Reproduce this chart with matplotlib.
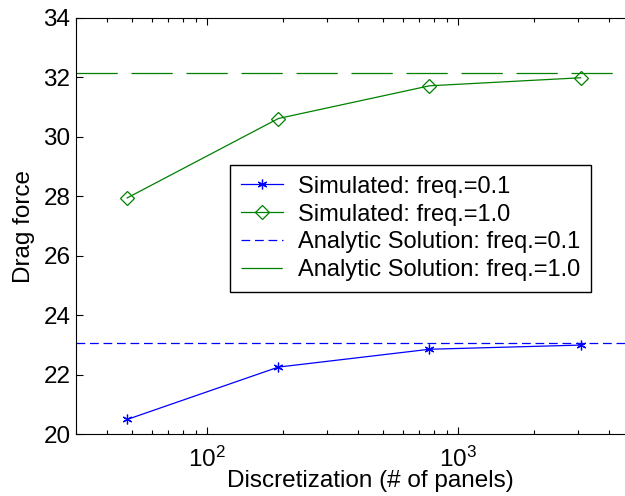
import matplotlib
matplotlib.use('Agg')
import matplotlib.pyplot as plt
import numpy as np

plt.rcParams['font.family'] = ['Liberation Sans', 'DejaVu Sans']
plt.rcParams['mathtext.fontset'] = 'custom'
plt.rcParams['mathtext.rm'] = 'Liberation Sans'
plt.rcParams['mathtext.it'] = 'Liberation Sans'

# data
panels = [48, 192, 768, 3072]
drag_f01 = [20.50, 22.26, 22.86, 23.00]
drag_f10 = [27.95, 30.62, 31.72, 31.99]
exact_f01 = 23.06
exact_f10 = 32.16
xlims = [30, 6600]
ylims = [20, 34]

fig = plt.figure(figsize=(6.25, 4.96), dpi=100)
ax = fig.add_axes([76/625, 61.7/496, 588/625, 416.3/496])

ax.plot(panels, drag_f01, color='b', lw=0.9, marker=(6, 2, 0), ms=7, mew=0.9,
        label='Simulated: freq.=0.1')
ax.plot(panels, drag_f10, color='g', lw=0.9, marker='D', ms=7, mfc='none', mew=0.9,
        label='Simulated: freq.=1.0')
l1 = ax.axhline(exact_f01, color='b', lw=0.9, label='Analytic Solution: freq.=0.1')
l1.set_dashes([7, 3.8])
l2 = ax.axhline(exact_f10, color='g', lw=0.9, label='Analytic Solution: freq.=1.0')
l2.set_dashes([33, 11])

ax.set_xscale('log')
ax.set_xlim(xlims)
ax.set_ylim(ylims)
ax.set_yticks(np.arange(20, 35, 2))
ax.spines['right'].set_visible(False)
ax.tick_params(which='both', direction='in', top=True, right=False, labelsize=17.5)
ax.tick_params(which='major', length=5, width=0.8)
ax.tick_params(which='minor', length=3, width=0.8)
ax.tick_params(axis='y', pad=4)
ax.tick_params(axis='x', pad=9)

ax.set_xlabel('Discretization (# of panels)', fontsize=17.5)
ax.xaxis.set_label_coords((370-76)/588, -0.085)
ax.set_ylabel('Drag force', fontsize=17.5, labelpad=6)

leg = ax.legend(loc='upper left', bbox_to_anchor=(230/625, 1-165/496),
                bbox_transform=fig.transFigure, borderaxespad=0, fontsize=17,
                fancybox=False, framealpha=1, edgecolor='k', handlelength=1.8,
                labelspacing=0.25, borderpad=0.45, handletextpad=0.65)
leg.get_frame().set_linewidth(1)

fig.savefig('out.png', dpi=100)
